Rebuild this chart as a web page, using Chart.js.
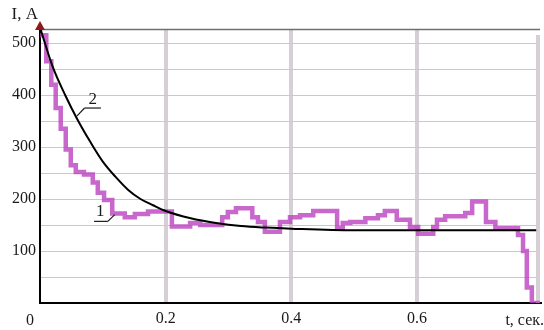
<!DOCTYPE html>
<html><head><meta charset="utf-8">
<script src="https://cdn.jsdelivr.net/npm/chart.js@4"></script>
<style>html,body{margin:0;padding:0;background:#fff}#wrap{width:544px;height:330px}</style>
</head><body><div id="wrap"><canvas id="c" width="544" height="330"></canvas></div>
<script>
// Curve 1: stepped measured current (t, I)
const curve1T = [0,0.010,0.018,0.025,0.033,0.041,0.049,0.057,0.070,0.084,0.092,0.102,0.115,0.135,0.151,0.172,0.210,0.239,0.255,0.290,0.299,0.312,0.338,0.347,0.358,0.382,0.398,0.414,0.435,0.473,0.482,0.494,0.518,0.538,0.549,0.568,0.589,0.602,0.626,0.632,0.645,0.677,0.688,0.710,0.725,0.761,0.769,0.775,0.783,0.796];
const curve1I = [515,465,420,375,335,295,265,252,247,232,212,198,172,165,171,176,147,154,150,165,175,182,165,156,137,156,165,169,177,144,154,156,163,169,177,160,146,133,146,160,167,173,195,156,144,131,100,30,0,0];
// Curve 2: smooth calculated current (t, I)
const curve2T = [0,0.02,0.04,0.06,0.08,0.10,0.12,0.14,0.16,0.18,0.20,0.24,0.28,0.32,0.36,0.40,0.50,0.60,0.79];
const curve2I = [530,455,400,352,310,272,243,218,200,188,177,163,154,148,145,143,140,140,140];
// Axis ticks
const xTickValues = [0,0.2,0.4,0.6];
const xTickLabels = ['0','0.2','0.4','0.6'];
const yGridValues = [0,50,100,150,200,250,300,350,400,450,500];
const yTickLabels = [100,200,300,400,500];
const yMax = 527, xMax = 0.796;
// Annotation anchors (data units)
const label2 = {text:'2', t:0.084, v:392, lineFrom:{t:0.071, v:375}, lineTo:{t:0.097,v:375}, leadTo:{t:0.059,v:360}};
const label1 = {text:'1', t:0.096, v:176, lineFrom:{t:0.086, v:157}, lineTo:{t:0.108,v:157}, leadTo:{t:0.119,v:170}};

const serif = "'Liberation Serif', 'Times New Roman', serif";

const extras = {
  id:'extras',
  beforeDatasetsDraw(chart){
    const ctx = chart.ctx, a = chart.chartArea;
    ctx.save();
    // right edge grey line
    ctx.strokeStyle = '#d6d0d6'; ctx.lineWidth = 4;
    ctx.beginPath(); ctx.moveTo(a.right - 2, a.top + 6); ctx.lineTo(a.right - 2, a.bottom); ctx.stroke();
    // top frame line
    ctx.strokeStyle = '#6b7178'; ctx.lineWidth = 1.5;
    ctx.beginPath(); ctx.moveTo(a.left, a.top + 0.5); ctx.lineTo(a.right, a.top + 0.5); ctx.stroke();
    ctx.restore();
  },
  afterDatasetsDraw(chart){
    const ctx = chart.ctx, xs = chart.scales.x, ys = chart.scales.y;
    const X = v=>xs.getPixelForValue(v), Y = v=>ys.getPixelForValue(v);
    ctx.save();
    const ax = X(0), ay = chart.chartArea.top;
    ctx.fillStyle = '#8b1a1a';
    ctx.beginPath(); ctx.moveTo(ax, ay-8); ctx.lineTo(ax-5, ay+1); ctx.lineTo(ax+5, ay+1); ctx.closePath(); ctx.fill();
    ctx.fillStyle = '#1a1a1a';
    ctx.font = '17px ' + serif;
    ctx.textBaseline = 'middle';
    ctx.textAlign = 'right';
    ctx.fillText('I, A', ax-2, ay-14);
    ctx.font = '16px ' + serif;
    ctx.fillText('t, сек.', chart.width, chart.chartArea.bottom + 18);
    ctx.textAlign = 'center';
    ctx.fillText(xTickLabels[0], ax-10, chart.chartArea.bottom + 18);
    ctx.lineWidth = 1.2; ctx.strokeStyle = '#1a1a1a';
    ctx.font = '17px ' + serif;
    for (const L of [label2, label1]) {
      ctx.fillText(L.text, X(L.t), Y(L.v));
      ctx.beginPath();
      ctx.moveTo(X(L.lineTo.t), Y(L.lineTo.v));
      ctx.lineTo(X(L.lineFrom.t), Y(L.lineFrom.v));
      ctx.stroke();
      ctx.beginPath();
      const fromEnd = L === label2 ? L.lineFrom : L.lineTo;
      ctx.moveTo(X(fromEnd.t), Y(fromEnd.v));
      ctx.lineTo(X(L.leadTo.t), Y(L.leadTo.v));
      ctx.stroke();
    }
    ctx.restore();
  }
};

new Chart(document.getElementById('c'), {
  type:'line',
  data:{
    datasets:[
      {data: curve1T.map((t,i)=>({x:t,y:curve1I[i]})), stepped:true, borderColor:'rgba(186,62,190,0.78)', borderWidth:4.5, pointRadius:0, fill:false, order:2},
      {data: curve2T.map((t,i)=>({x:t,y:curve2I[i]})), borderColor:'#000', borderWidth:2, pointRadius:0, cubicInterpolationMode:'monotone', fill:false, order:1}
    ]
  },
  options:{
    responsive:false, animation:false, maintainAspectRatio:false,
    layout:{padding:{left:0,right:4,top:29,bottom:0}},
    plugins:{legend:{display:false}, tooltip:{enabled:false}},
    scales:{
      x:{type:'linear', min:0, max:xMax,
        afterFit(s){s.height=27;},
        afterBuildTicks(s){ s.ticks = xTickValues.map(v=>({value:v})); },
        ticks:{maxRotation:0, autoSkip:false, padding:6, color:'#1a1a1a', font:{family:serif, size:16},
          callback:(v)=>{const i = xTickValues.indexOf(v); return i>0 ? xTickLabels[i] : '';}},
        grid:{drawTicks:false, color:(c)=> c.tick && c.tick.value===0 ? 'rgba(0,0,0,0)' : '#d6d0d6', lineWidth:4},
        border:{color:'#000', width:2}
      },
      y:{min:0, max:yMax,
        afterFit(s){s.width=40;},
        afterBuildTicks(s){ s.ticks = yGridValues.map(v=>({value:v})); },
        ticks:{autoSkip:false, padding:4, color:'#1a1a1a', font:{family:serif, size:16},
          callback:(v)=> yTickLabels.includes(v) ? String(v) : ''},
        grid:{drawTicks:false, color:'#cfc5cf', lineWidth:1},
        border:{color:'#000', width:2}
      }
    }
  },
  plugins:[extras]
});
</script></body></html>
